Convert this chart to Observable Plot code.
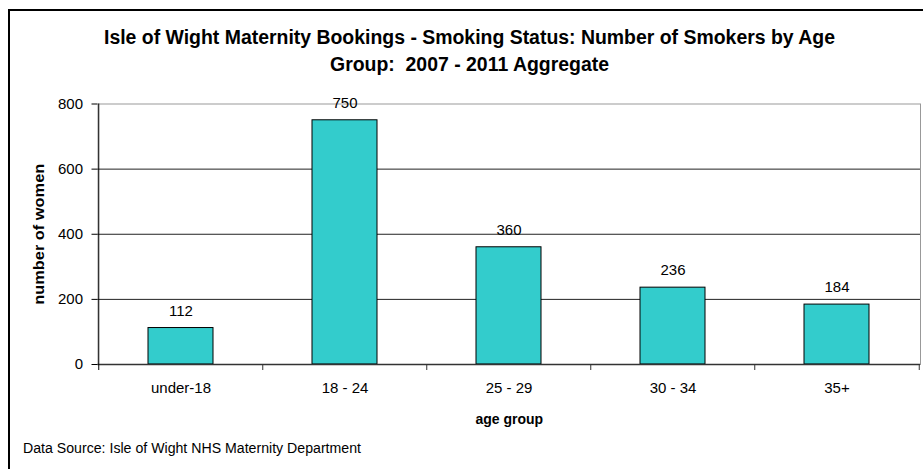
<!DOCTYPE html>
<html><head><meta charset="utf-8">
<script src="https://cdn.jsdelivr.net/npm/d3@7"></script>
<script src="https://cdn.jsdelivr.net/npm/@observablehq/plot@0.6"></script>
<style>
html,body{margin:0;padding:0;width:923px;height:469px;overflow:hidden;background:#fff;font-family:"Liberation Sans",Arial,sans-serif;color:#000;}
#frame{position:absolute;left:8px;top:9px;width:1000px;height:1000px;border:2px solid #000;box-sizing:border-box;}
#title{position:absolute;left:0;top:23.6px;width:939px;text-align:center;font-weight:bold;font-size:20px;line-height:27px;transform-origin:469.5px 0;}
#title span{display:inline-block;white-space:pre;}
#chart{position:absolute;left:0;top:90px;}
#source{position:absolute;left:23px;top:441px;font-size:14px;line-height:14px;white-space:nowrap;transform-origin:0 0;}
</style></head>
<body>
<div id="frame"></div>
<div id="title"><div><span id="t1">Isle of Wight Maternity Bookings - Smoking Status: Number of Smokers by Age</span></div><div><span id="t2">Group:  2007 - 2011 Aggregate</span></div></div>
<div id="chart"></div>
<div id="source">Data Source: Isle of Wight NHS Maternity Department</div>
<script>
const categories = ["under-18", "18 - 24", "25 - 29", "30 - 34", "35+"];
const values = [112, 750, 360, 236, 184];
const yTicks = [0, 200, 400, 600, 800];

const data = categories.map((c, i) => ({group: c, value: values[i]}));
const W = 923, H = 340, mL = 97.5, mR = 3, mT = 13.5, mB = 66;
const half = (W - mL - mR) / categories.length / 2;
const font = '"Liberation Sans", Arial, sans-serif';

const chart = Plot.plot({
  width: W, height: H,
  marginLeft: mL, marginRight: mR, marginTop: mT, marginBottom: mB,
  style: {fontFamily: font, fontSize: "15px", color: "#000", background: "transparent", overflow: "visible"},
  x: {type: "band", domain: categories, paddingInner: 0.605, paddingOuter: 0.3025, label: null},
  y: {domain: [0, 800], label: null},
  marks: [
    Plot.frame({stroke: "#999"}),
    Plot.ruleY(yTicks.filter(t => t > 0 && t < 800), {stroke: "#222"}),
    Plot.barY(data, {x: "group", y: "value", fill: "#33CCCC", stroke: "#000", strokeWidth: 1}),
    Plot.ruleY([0], {stroke: "#333", strokeWidth: 1.5}),
    Plot.ruleX([categories[0]], {x: d => d, y1: 800, y2: 0, dx: -half, insetBottom: -6, stroke: "#000"}),
    Plot.ruleX(categories.slice(1), {x: d => d, y1: 0, y2: 0, dx: -half, insetBottom: -6, stroke: "#333"}),
    Plot.ruleX([categories[categories.length - 1]], {x: d => d, y1: 0, y2: 0, dx: half, insetBottom: -6, stroke: "#333"}),
    Plot.axisY({ticks: yTicks, tickSize: 6, tickPadding: 9, fontSize: 15, label: null, stroke: "#000"}),
    Plot.axisX({tickSize: 0, tickPadding: 18, fontSize: 15, label: null}),
    Plot.text(data, {x: "group", y: "value", text: d => String(d.value), lineAnchor: "bottom", dy: -12.5, fontSize: 15, fill: "#000"}),
    Plot.text(["age group"], {text: d => d, frameAnchor: "bottom", textAnchor: "middle", lineAnchor: "bottom", dy: 59, fontWeight: "bold", fontSize: 14, fill: "#000"}),
    Plot.text(["number of women"], {text: d => d, frameAnchor: "left", textAnchor: "middle", rotate: -90, lineAnchor: "bottom", dx: -54.2, fontWeight: "bold", fontSize: 14.5, fill: "#000"})
  ]
});
document.getElementById("chart").appendChild(chart);

// the reference's y label is stretched along its length
d3.select(chart).selectAll("text").filter(function () { return this.textContent === "number of women"; })
  .attr("transform", function () { return (this.getAttribute("transform") || "") + " scale(1.13,1)"; });

// fit condensed text widths as in the reference
const t1 = document.getElementById("t1");
const k = 731 / t1.getBoundingClientRect().width;
document.getElementById("title").style.transform = `scaleX(${k})`;
const src = document.getElementById("source");
const ks = 338 / src.getBoundingClientRect().width;
src.style.transform = `scaleX(${ks})`;
</script>
</body></html>
